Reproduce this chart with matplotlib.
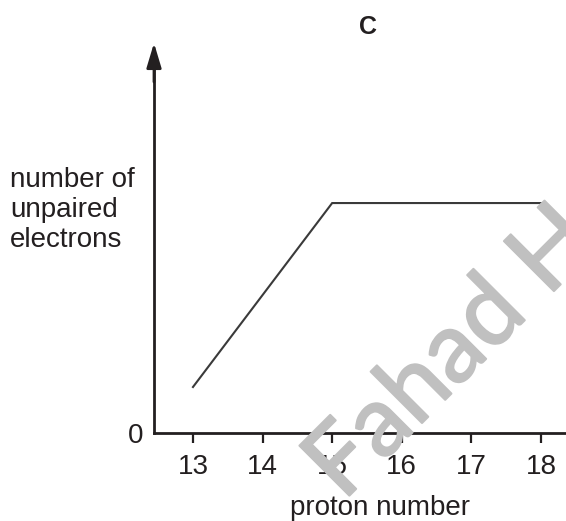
import matplotlib
matplotlib.use('Agg')
import matplotlib.pyplot as plt
import matplotlib.patheffects as pe

proton_number = [13, 15, 18]
unpaired = [1, 5, 5]
xticks = [13, 14, 15, 16, 17, 18]

plt.rcParams['font.family'] = ['Liberation Sans', 'DejaVu Sans']
ink = '#231f20'

fig = plt.figure(figsize=(5.66, 5.21), dpi=100)
ax = fig.add_axes([154 / 566, 1 - 433 / 521, 412 / 566, 390 / 521])

ax.plot(proton_number, unpaired, color='#3a3a3a', lw=1.5, solid_joinstyle='miter')

ax.set_xlim(12.44, 18.36)
ax.set_ylim(0, 8.48)

for side in ['top', 'right']:
    ax.spines[side].set_visible(False)
for side in ['left', 'bottom']:
    ax.spines[side].set_linewidth(2)
    ax.spines[side].set_color(ink)
ax.spines['left'].set_bounds(0, 8.0)

# arrow head on the y axis
ax.annotate('', xy=(0, 1), xytext=(0, 0.9), xycoords='axes fraction',
            arrowprops=dict(arrowstyle='-|>,head_length=1.5,head_width=0.45',
                            color=ink, lw=2, shrinkA=0, shrinkB=0))

ax.set_xticks(xticks)
ax.set_xticklabels([str(t) for t in xticks])
ax.tick_params(axis='x', direction='out', length=7, width=1.6, color=ink,
               labelsize=20, labelcolor=ink, pad=8)
ax.set_yticks([0])
ax.set_yticklabels(['0'])
ax.tick_params(axis='y', length=0, labelsize=20, labelcolor=ink, pad=8)

ax.set_xlabel('proton number', fontsize=20, color=ink)
ax.xaxis.set_label_coords((380 - 154) / 412, -0.16)

fig.text(10 / 566, 1 - 210 / 521, 'number of\nunpaired\nelectrons',
         ha='left', va='center', fontsize=20, color=ink, linespacing=1.2)
fig.text(368 / 566, 1 - 27 / 521, 'C', ha='center', va='center',
         fontsize=18, fontweight='bold', color=ink)

fig.text(343 / 566, 1 - 502 / 521, 'Fahad H', rotation=45, rotation_mode='anchor',
         ha='left', va='baseline', fontsize=71, color='#c0c0c0', zorder=0,
         family=['Lato', 'Liberation Sans'],
         path_effects=[pe.withStroke(linewidth=1.5, foreground='#c0c0c0')])

fig.savefig('out.png', dpi=100)
